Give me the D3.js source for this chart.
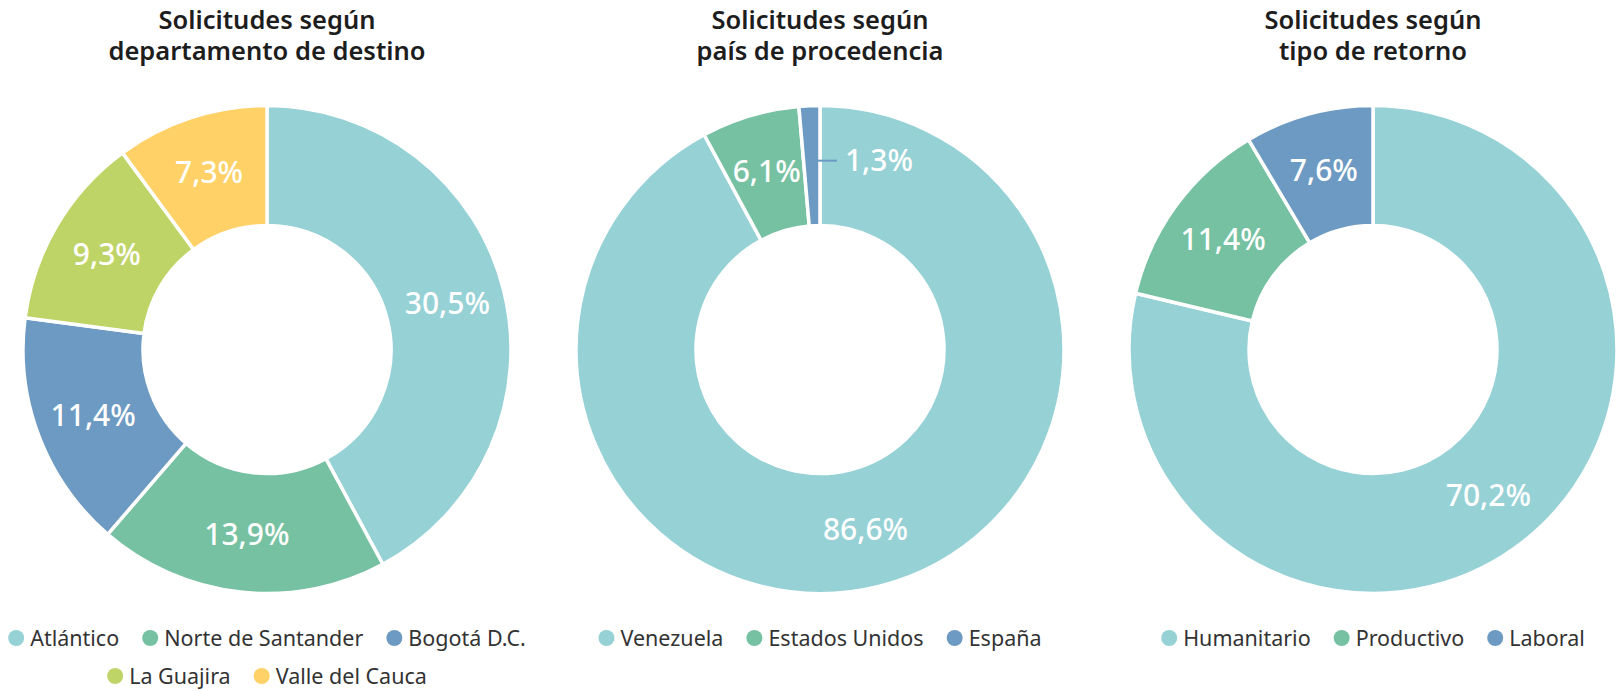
<!DOCTYPE html>
<html>
<head>
<meta charset="utf-8">
<script src="https://cdn.jsdelivr.net/npm/d3@7"></script>
<style>
  html, body { margin: 0; padding: 0; background: #fff; }
  svg { display: block; }
  text { font-family: "Noto Sans", "Open Sans", sans-serif; }
</style>
</head>
<body>
<svg id="chart" width="1624" height="691"></svg>
<script>
// ---- Data ----
const titles1 = ["Solicitudes según", "departamento de destino"];
const titles2 = ["Solicitudes según", "país de procedencia"];
const titles3 = ["Solicitudes según", "tipo de retorno"];

const destinoCats = ["Atlántico", "Norte de Santander", "Bogotá D.C.", "La Guajira", "Valle del Cauca"];
const destinoVals = [30.5, 13.9, 11.4, 9.3, 7.3];

const paisCats = ["Venezuela", "Estados Unidos", "España"];
const paisVals = [86.6, 6.1, 1.3];

const tipoCats = ["Humanitario", "Productivo", "Laboral"];
const tipoVals = [70.2, 11.4, 7.6];

const palette = ["#95d1d5", "#76c1a2", "#6d9ac2", "#bfd467", "#ffd166"];

// ---- Layout ----
const W = 1624, H = 691;
const panels = [
  { title: titles1, cats: destinoCats, vals: destinoVals },
  { title: titles2, cats: paisCats, vals: paisVals },
  { title: titles3, cats: tipoCats, vals: tipoVals }
];
const cx = d3.scaleLinear().domain([0, 2]).range([267, 1373]);
const cy = 349.5;
const rOuter = 244, rInner = 124;
const legendMaxWidth = 540;

const svg = d3.select("#chart");
const fmt = v => d3.format(".1f")(v).replace(".", ",") + "%";

const pie = d3.pie().sort(null).value(d => d.value);
const arc = d3.arc().innerRadius(rInner).outerRadius(rOuter);
const labelArc = d3.arc().innerRadius((rInner + rOuter) / 2 + 2).outerRadius((rInner + rOuter) / 2 + 2);

panels.forEach((p, i) => {
  const x0 = cx(i);
  const color = d3.scaleOrdinal().domain(p.cats).range(palette);
  const data = p.cats.map((c, k) => ({ cat: c, value: p.vals[k] }));
  const arcs = pie(data);
  const total = d3.sum(p.vals);

  // Title
  const t = svg.append("text")
    .attr("x", x0).attr("y", 29)
    .attr("text-anchor", "middle")
    .attr("font-size", 25.5).attr("font-weight", 600)
    .attr("fill", "#1d1d1d");
  p.title.forEach((line, li) => {
    t.append("tspan").attr("x", x0).attr("dy", li === 0 ? 0 : 31).text(line);
  });

  const g = svg.append("g").attr("transform", `translate(${x0},${cy})`);

  g.selectAll("path.slice").data(arcs).enter().append("path")
    .attr("class", "slice")
    .attr("d", arc)
    .attr("fill", d => color(d.data.cat))
    .attr("stroke", "#fff")
    .attr("stroke-width", 3.5)
    .attr("stroke-linejoin", "round");

  arcs.forEach(d => {
    const [lx, ly] = labelArc.centroid(d);
    const share = d.data.value / total;
    if (share < 0.03) {
      // outside label with leader line
      g.append("line")
        .attr("x1", lx).attr("y1", ly - 3)
        .attr("x2", lx + 25).attr("y2", ly - 3)
        .attr("stroke", color(d.data.cat)).attr("stroke-width", 2);
      g.append("text")
        .attr("x", lx + 33).attr("y", ly - 3)
        .attr("dy", "0.35em")
        .attr("text-anchor", "start")
        .attr("font-size", 30).attr("font-weight", 500).attr("fill", "#fff")
        .text(fmt(d.data.value));
    } else {
      g.append("text")
        .attr("x", lx).attr("y", ly)
        .attr("dy", "0.35em")
        .attr("text-anchor", "middle")
        .attr("font-size", 30).attr("font-weight", 500).attr("fill", "#fff")
        .text(fmt(d.data.value));
    }
  });

  // Legend with wrapping, centred rows
  const lg = svg.append("g");
  const items = p.cats.map(c => {
    const it = lg.append("g");
    it.append("circle").attr("r", 8).attr("cx", 8).attr("cy", 0).attr("fill", color(c));
    const tx = it.append("text").attr("x", 22).attr("y", 0).attr("dy", "0.35em")
      .attr("font-size", 21.5).attr("fill", "#333").text(c);
    const w = 22 + tx.node().getComputedTextLength();
    return { node: it, w };
  });
  const gap = 23;
  const rows = [[]];
  let cur = 0;
  items.forEach(it => {
    const need = (rows[rows.length - 1].length ? gap : 0) + it.w;
    if (rows[rows.length - 1].length && cur + need > legendMaxWidth) {
      rows.push([it]); cur = it.w;
    } else {
      rows[rows.length - 1].push(it); cur += need;
    }
  });
  rows.forEach((row, ri) => {
    const rw = d3.sum(row, r => r.w) + gap * (row.length - 1);
    let x = x0 - rw / 2;
    const y = 638 + ri * 38;
    row.forEach(it => {
      it.node.attr("transform", `translate(${x},${y})`);
      x += it.w + gap;
    });
  });
});
</script>
</body>
</html>
